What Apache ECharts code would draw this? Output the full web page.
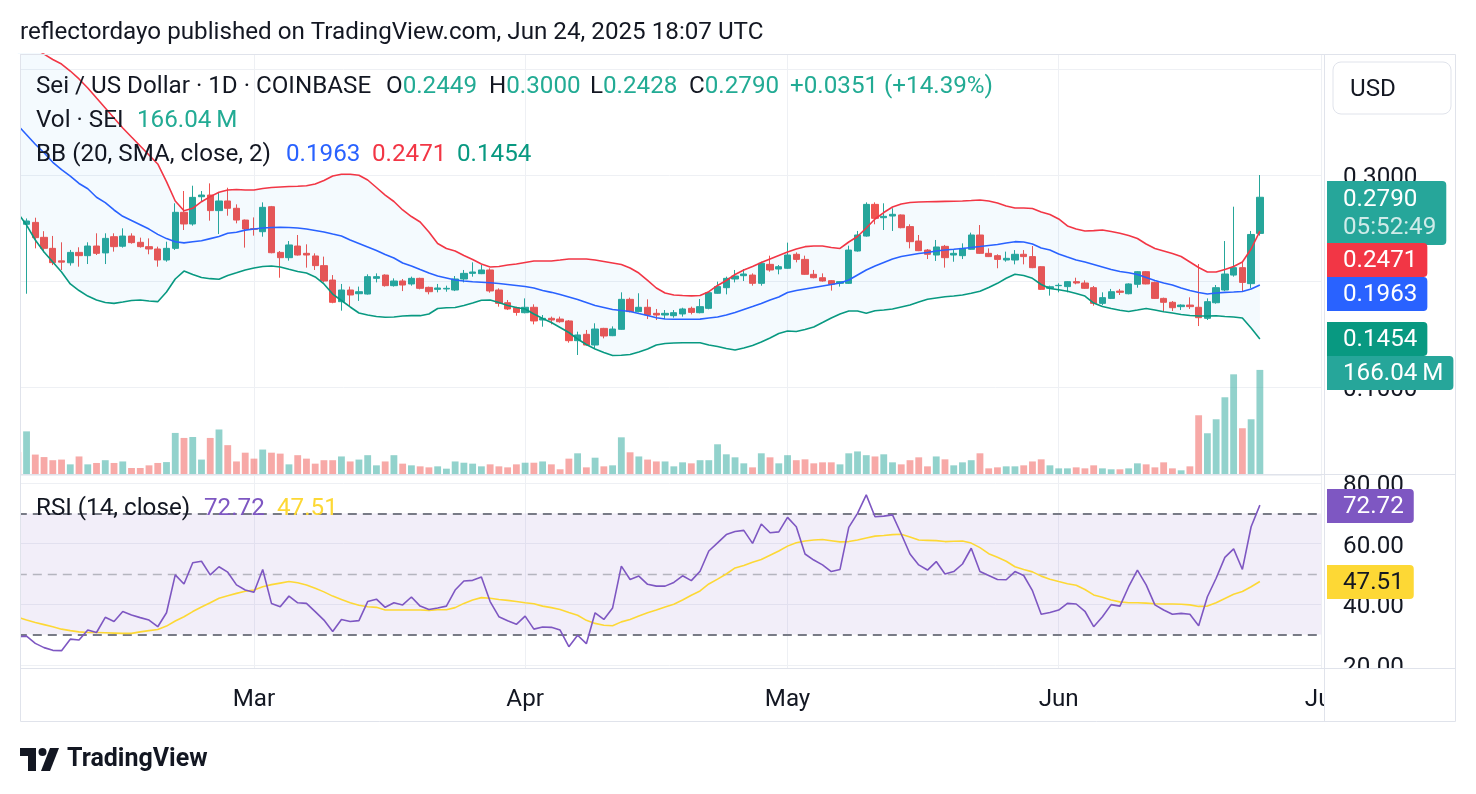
<!DOCTYPE html>
<html>
<head>
<meta charset="utf-8">
<title>Sei / US Dollar 1D</title>
<script src="https://cdn.jsdelivr.net/npm/echarts@6/dist/echarts.min.js"></script>
<style>
  html, body { margin: 0; padding: 0; background: #fff; }
  #chart { width: 1476px; height: 794px; }
</style>
</head>
<body>
<div id="chart"></div>
<script>
// SEI/USD daily, Coinbase, 2 Feb .. 24 Jun 2025 (axis runs on to 1 Jul)
var firstDay = Date.UTC(2025, 1, 2);
var dayCount = 150;
var categories = [];
for (var d = 0; d < dayCount; d++) {
  categories.push(new Date(firstDay + d * 86400000).toISOString().slice(0, 10));
}
var monthLabels = { '2025-03-01': 'Mar', '2025-04-01': 'Apr', '2025-05-01': 'May', '2025-06-01': 'Jun', '2025-07-01': 'Jul' };

var openVals = [
  0.2984,0.2535,0.2553,0.2412,0.2308,0.2190,0.2172,0.2270,0.2239,0.2330,
  0.2265,0.2418,0.2328,0.2424,0.2365,0.2324,0.2302,0.2198,0.2308,0.2648,
  0.2538,0.2795,0.2811,0.2664,0.2755,0.2686,0.2575,0.2494,0.2465,0.2701,
  0.2270,0.2220,0.2330,0.2261,0.2236,0.2145,0.2009,0.1805,0.1915,0.1880,
  0.1877,0.2025,0.2056,0.1956,0.2000,0.1972,0.2025,0.1940,0.1921,0.1925,
  0.1915,0.2019,0.2072,0.2069,0.2104,0.1915,0.1795,0.1748,0.1701,0.1752,
  0.1632,0.1648,0.1641,0.1623,0.1437,0.1497,0.1396,0.1553,0.1484,0.1544,
  0.1827,0.1711,0.1752,0.1695,0.1679,0.1673,0.1689,0.1742,0.1701,0.1742,
  0.1884,0.1937,0.2019,0.2050,0.2056,0.1978,0.2157,0.2113,0.2120,0.2252,
  0.2204,0.2063,0.2031,0.2003,0.1978,0.1978,0.2283,0.2424,0.2723,0.2597,
  0.2613,0.2623,0.2513,0.2377,0.2292,0.2245,0.2327,0.2245,0.2239,0.2299,
  0.2434,0.2261,0.2239,0.2198,0.2198,0.2252,0.2230,0.2135,0.1931,0.1956,
  0.1947,0.1994,0.1981,0.1937,0.1789,0.1836,0.1905,0.1880,0.1969,0.2088,
  0.1987,0.1836,0.1799,0.1758,0.1773,0.1752,0.1648,0.1795,0.1915,0.2056,
  0.2126,0.1975,0.2449
];
var highVals = [
  0.3050,0.2590,0.2597,0.2470,0.2425,0.2365,0.2293,0.2318,0.2365,0.2450,
  0.2450,0.2450,0.2497,0.2450,0.2409,0.2402,0.2324,0.2371,0.2733,0.2849,
  0.2899,0.2849,0.2921,0.2836,0.2880,0.2723,0.2580,0.2600,0.2742,0.2708,
  0.2283,0.2377,0.2434,0.2346,0.2261,0.2230,0.2056,0.1972,0.1947,0.1947,
  0.2063,0.2072,0.2063,0.2025,0.2019,0.2041,0.2031,0.1947,0.1972,0.1956,
  0.2047,0.2104,0.2176,0.2151,0.2120,0.1931,0.1821,0.1758,0.1836,0.1780,
  0.1679,0.1664,0.1664,0.1632,0.1522,0.1538,0.1601,0.1558,0.1572,0.1893,
  0.1843,0.1884,0.1827,0.1736,0.1726,0.1726,0.1748,0.1758,0.1830,0.1899,
  0.1994,0.2041,0.2104,0.2113,0.2072,0.2182,0.2239,0.2151,0.2362,0.2270,
  0.2239,0.2104,0.2072,0.2008,0.1999,0.2333,0.2472,0.2742,0.2742,0.2733,
  0.2686,0.2628,0.2535,0.2434,0.2302,0.2387,0.2340,0.2292,0.2355,0.2456,
  0.2528,0.2308,0.2252,0.2277,0.2292,0.2292,0.2330,0.2140,0.1956,0.1978,
  0.2000,0.2031,0.2006,0.1953,0.1893,0.1925,0.1925,0.1978,0.2094,0.2094,
  0.1994,0.1843,0.1811,0.1780,0.1846,0.2160,0.1836,0.1962,0.2377,0.2701,
  0.2176,0.2472,0.3000
];
var lowVals = [
  0.2500,0.1880,0.2308,0.2270,0.2150,0.2104,0.2145,0.2135,0.2160,0.2245,
  0.2160,0.2277,0.2315,0.2352,0.2315,0.2252,0.2135,0.2182,0.2293,0.2481,
  0.2522,0.2755,0.2569,0.2443,0.2616,0.2544,0.2315,0.2428,0.2418,0.2261,
  0.2031,0.2192,0.2240,0.2126,0.2104,0.1987,0.1790,0.1720,0.1758,0.1812,
  0.1872,0.1987,0.1947,0.1947,0.1905,0.1956,0.1921,0.1874,0.1893,0.1899,
  0.1905,0.1987,0.2041,0.2065,0.1890,0.1758,0.1726,0.1673,0.1695,0.1591,
  0.1569,0.1591,0.1607,0.1418,0.1302,0.1390,0.1358,0.1459,0.1480,0.1540,
  0.1704,0.1705,0.1641,0.1632,0.1641,0.1654,0.1664,0.1685,0.1695,0.1733,
  0.1880,0.1874,0.1987,0.2000,0.1956,0.1956,0.2088,0.2063,0.2115,0.2176,
  0.2058,0.2025,0.1994,0.1909,0.1947,0.1972,0.2277,0.2418,0.2535,0.2481,
  0.2472,0.2497,0.2308,0.2282,0.2207,0.2189,0.2126,0.2182,0.2207,0.2295,
  0.2256,0.2226,0.2120,0.2182,0.2157,0.2157,0.2121,0.1915,0.1862,0.1893,
  0.1893,0.1969,0.1925,0.1767,0.1773,0.1830,0.1868,0.1874,0.1937,0.1969,
  0.1830,0.1711,0.1717,0.1726,0.1736,0.1575,0.1632,0.1786,0.1905,0.2041,
  0.1905,0.1930,0.2428
];
var closeVals = [
  0.2530,0.2566,0.2409,0.2308,0.2173,0.2178,0.2270,0.2239,0.2330,0.2261,
  0.2402,0.2324,0.2424,0.2362,0.2324,0.2302,0.2198,0.2308,0.2648,0.2538,
  0.2789,0.2811,0.2664,0.2755,0.2686,0.2575,0.2491,0.2488,0.2695,0.2267,
  0.2220,0.2340,0.2245,0.2245,0.2145,0.2000,0.1799,0.1915,0.1868,0.1899,
  0.2041,0.2041,0.1956,0.2000,0.1962,0.2025,0.1931,0.1899,0.1934,0.1931,
  0.2019,0.2072,0.2085,0.2104,0.1906,0.1789,0.1736,0.1704,0.1752,0.1623,
  0.1648,0.1632,0.1616,0.1437,0.1491,0.1396,0.1547,0.1481,0.1547,0.1827,
  0.1711,0.1752,0.1679,0.1679,0.1695,0.1701,0.1736,0.1704,0.1758,0.1890,
  0.1947,0.2025,0.2047,0.2066,0.1978,0.2167,0.2104,0.2135,0.2245,0.2204,
  0.2063,0.2031,0.2000,0.1969,0.1994,0.2292,0.2434,0.2723,0.2591,0.2610,
  0.2629,0.2503,0.2371,0.2286,0.2252,0.2321,0.2220,0.2261,0.2308,0.2434,
  0.2261,0.2230,0.2204,0.2214,0.2252,0.2230,0.2126,0.1921,0.1946,0.1959,
  0.1994,0.1981,0.1931,0.1789,0.1843,0.1899,0.1893,0.1972,0.2088,0.1972,
  0.1836,0.1799,0.1748,0.1773,0.1758,0.1654,0.1805,0.1937,0.2066,0.2126,
  0.1987,0.2439,0.2790
];
// volume in millions of SEI
var volVals = [
  35,68,31,27,22,23,15.4,28,15.4,17.6,
  22,17.6,20,9.6,9.6,13.8,17.6,19,65.5,57.5,
  59,23,57.5,71,46,20,34,24.5,39,34,
  32.5,15.4,30,24.5,16.5,22,22,28,20,23,
  30,13.8,20,30,16.5,13.8,12.2,10.6,12.2,8.5,
  20,18,16.5,12.2,15.4,12.2,10.6,15.4,18,18,
  20,15.4,7.5,24.5,33,10.6,26,12.2,13.8,58.5,
  34.6,28,23,20,20,12.2,18.6,17,22,22,
  47.4,31.4,26.6,17,10.6,33,26.6,17,30,22,
  23.4,17,18.6,18.6,15.4,33,36,30,28,31.4,
  18.6,15.4,22,26.6,12.2,28,23.4,13.8,18.6,22,
  33,9,10.6,12.2,12.2,13.8,20,23.4,13.8,9,
  9,10.6,9,13.8,9,7.5,7.5,9,17,15.4,
  10.6,18.6,9,5.9,12.2,93.7,65,87.3,122.4,159,
  73,87.3,166.04
];
// Bollinger Bands (20, SMA, close, 2) as drawn
var bbUpper = [
  0.4300,0.4230,0.4190,0.4140,0.4090,0.4047,0.3981,0.3906,0.3821,0.3726,
  0.3632,0.3538,0.3443,0.3358,0.3274,0.3189,0.3104,0.2937,0.2755,0.2663,
  0.2686,0.2748,0.2796,0.2837,0.2858,0.2863,0.2858,0.2858,0.2873,0.2882,
  0.2887,0.2892,0.2894,0.2899,0.2915,0.2948,0.2991,0.3007,0.3007,0.2997,
  0.2953,0.2882,0.2811,0.2750,0.2670,0.2608,0.2557,0.2462,0.2354,0.2307,
  0.2283,0.2241,0.2203,0.2160,0.2132,0.2137,0.2151,0.2160,0.2175,0.2189,
  0.2189,0.2189,0.2198,0.2208,0.2208,0.2208,0.2198,0.2184,0.2170,0.2156,
  0.2123,0.2075,0.2005,0.1934,0.1887,0.1868,0.1863,0.1860,0.1863,0.1899,
  0.1958,0.2005,0.2061,0.2104,0.2137,0.2175,0.2208,0.2241,0.2274,0.2302,
  0.2324,0.2330,0.2330,0.2316,0.2307,0.2368,0.2420,0.2500,0.2585,0.2646,
  0.2698,0.2726,0.2741,0.2745,0.2747,0.2749,0.2751,0.2753,0.2755,0.2759,
  0.2764,0.2755,0.2736,0.2708,0.2689,0.2689,0.2684,0.2651,0.2627,0.2585,
  0.2519,0.2491,0.2472,0.2475,0.2481,0.2467,0.2450,0.2429,0.2401,0.2349,
  0.2307,0.2283,0.2259,0.2231,0.2179,0.2127,0.2085,0.2085,0.2108,0.2137,
  0.2179,0.2302,0.2471
];
var bbBasis = [
  0.3470,0.3380,0.3290,0.3210,0.3120,0.3050,0.2990,0.2920,0.2870,0.2790,
  0.2740,0.2670,0.2610,0.2570,0.2530,0.2490,0.2440,0.2400,0.2370,0.2360,
  0.2370,0.2380,0.2400,0.2420,0.2450,0.2460,0.2480,0.2490,0.2500,0.2505,
  0.2506,0.2505,0.2500,0.2490,0.2476,0.2462,0.2443,0.2425,0.2387,0.2354,
  0.2321,0.2288,0.2250,0.2217,0.2170,0.2142,0.2108,0.2075,0.2047,0.2028,
  0.2009,0.2000,0.1993,0.1988,0.1983,0.1976,0.1967,0.1958,0.1948,0.1934,
  0.1910,0.1893,0.1873,0.1849,0.1825,0.1797,0.1769,0.1750,0.1731,0.1722,
  0.1712,0.1693,0.1675,0.1653,0.1642,0.1639,0.1639,0.1639,0.1640,0.1651,
  0.1660,0.1679,0.1703,0.1731,0.1759,0.1788,0.1821,0.1849,0.1892,0.1910,
  0.1925,0.1939,0.1953,0.1967,0.1981,0.2009,0.2057,0.2104,0.2142,0.2175,
  0.2208,0.2231,0.2245,0.2259,0.2269,0.2283,0.2292,0.2299,0.2307,0.2316,
  0.2325,0.2335,0.2344,0.2358,0.2371,0.2368,0.2349,0.2311,0.2292,0.2255,
  0.2226,0.2198,0.2179,0.2156,0.2132,0.2108,0.2090,0.2078,0.2061,0.2033,
  0.2005,0.1981,0.1962,0.1934,0.1910,0.1892,0.1877,0.1887,0.1893,0.1896,
  0.1901,0.1925,0.1963
];
var bbLower = [
  0.2642,0.2528,0.2387,0.2274,0.2179,0.2085,0.1972,0.1910,0.1858,0.1821,
  0.1797,0.1789,0.1802,0.1816,0.1821,0.1811,0.1805,0.1896,0.2019,0.2094,
  0.2061,0.2033,0.2022,0.2016,0.2052,0.2077,0.2104,0.2123,0.2137,0.2142,
  0.2132,0.2110,0.2090,0.2075,0.2038,0.1972,0.1877,0.1816,0.1755,0.1698,
  0.1679,0.1665,0.1658,0.1660,0.1670,0.1673,0.1673,0.1689,0.1741,0.1748,
  0.1750,0.1769,0.1792,0.1819,0.1821,0.1797,0.1769,0.1750,0.1736,0.1689,
  0.1646,0.1608,0.1561,0.1514,0.1453,0.1401,0.1358,0.1325,0.1297,0.1299,
  0.1307,0.1330,0.1358,0.1396,0.1410,0.1415,0.1418,0.1418,0.1417,0.1396,
  0.1382,0.1363,0.1349,0.1368,0.1392,0.1425,0.1462,0.1505,0.1528,0.1524,
  0.1542,0.1566,0.1608,0.1651,0.1689,0.1717,0.1717,0.1695,0.1719,0.1726,
  0.1736,0.1755,0.1774,0.1802,0.1828,0.1840,0.1852,0.1858,0.1868,0.1884,
  0.1903,0.1939,0.1978,0.2026,0.2063,0.2052,0.2025,0.1967,0.1929,0.1917,
  0.1903,0.1882,0.1858,0.1792,0.1759,0.1741,0.1724,0.1712,0.1726,0.1741,
  0.1726,0.1710,0.1698,0.1684,0.1675,0.1670,0.1670,0.1672,0.1665,0.1660,
  0.1651,0.1557,0.1454
];
// RSI (14, close) and its moving average
var rsiVals = [
  29.3,29.5,27.1,25.7,24.8,24.7,28.5,28.2,31.5,30.7,
  35.7,34.3,37.6,36.5,35.6,34.8,32.6,37.2,49.7,46.7,
  53.7,54.2,49.7,52.4,50.6,46.4,44.7,44.0,51.5,40.3,
  39.2,42.7,40.5,40.3,37.6,34.8,31.0,35.0,34.3,34.6,
  40.9,41.7,39.0,40.5,39.8,42.4,39.4,38.3,38.8,39.4,
  44.7,47.7,47.9,49.0,40.9,35.9,34.6,33.4,36.1,31.8,
  32.5,32.4,31.5,26.0,29.8,27.0,37.2,35.0,38.8,52.6,
  48.2,49.3,46.6,46.0,46.0,47.2,49.4,47.8,50.9,57.6,
  60.3,63.0,64.0,64.4,60.1,66.5,63.6,63.9,68.7,65.6,
  56.6,54.6,53.0,50.8,51.5,65.4,70.0,76.1,68.9,69.1,
  69.5,63.2,56.6,53.0,51.3,54.1,50.0,50.8,53.3,58.5,
  50.8,49.5,48.2,48.1,50.8,49.5,44.5,36.7,37.3,38.1,
  40.3,40.1,37.7,32.6,35.9,39.9,39.4,45.8,51.3,46.4,
  39.8,38.1,36.7,37.0,36.7,32.9,42.5,48.6,55.5,58.3,
  51.5,65.6,72.72
];
var rsiMa = [
  35.7,34.8,34.0,33.3,32.6,31.8,31.3,30.9,30.7,30.7,
  30.6,30.5,30.4,30.4,30.9,31.3,31.7,32.8,34.5,35.9,
  37.6,39.1,40.5,42.0,42.8,43.6,44.3,44.7,45.8,46.5,
  47.0,47.5,47.1,46.4,45.3,44.1,42.7,41.6,40.5,39.7,
  39.2,39.0,38.1,38.1,38.1,38.1,38.1,38.0,38.2,38.2,
  38.9,40.3,41.4,42.2,42.0,41.6,41.3,40.9,40.5,40.2,
  39.4,38.9,38.3,37.3,36.4,34.7,33.7,33.1,32.9,34.2,
  35.0,36.1,37.2,38.1,39.1,40.0,41.4,43.0,44.4,46.7,
  48.3,50.0,52.0,52.8,53.9,54.8,56.2,57.6,59.2,60.3,
  60.9,61.2,61.4,61.0,60.6,60.7,61.2,61.9,62.5,62.7,
  63.0,63.1,62.2,61.2,61.1,61.0,60.7,60.8,60.9,60.2,
  58.7,56.7,55.5,54.2,52.4,51.5,50.7,49.3,48.3,47.5,
  46.8,46.3,44.9,43.1,42.3,41.4,40.8,40.5,40.5,40.4,
  40.2,40.1,40.1,40.0,39.8,39.3,39.4,40.5,41.9,43.3,
  44.2,45.8,47.51
];

var FONT = 'Roboto, "Noto Sans", sans-serif';
var FS = 24.2;
var INK = '#131722';
var UP = '#26a69a', DOWN = '#ef5350';
var GRID = '#eef0f4', FRAME = '#e0e3eb';

var candleData = openVals.map(function (o, i) {
  return [o, closeVals[i], lowVals[i], highVals[i]];
});
var volData = volVals.map(function (v, i) {
  var up = closeVals[i] >= openVals[i];
  return { value: v, itemStyle: { color: up ? 'rgba(38,166,154,0.5)' : 'rgba(239,83,80,0.5)' } };
});
var bbWidth = bbUpper.map(function (u, i) { return u - bbLower[i]; });

function isMonthStart(idx, val) { return monthLabels[val] !== undefined; }

function label(x, y, text, color, extra) {
  var st = { text: text, fill: color || INK, fontSize: FS, fontFamily: FONT, verticalAlign: 'middle' };
  for (var k in extra) st[k] = extra[k];
  return { type: 'text', x: x, y: y, z: 80, silent: true, style: st };
}
function pair(x, y, key, val, color) {
  return label(x, y, '{k|' + key + '}{v|' + val + '}', INK, {
    rich: { k: { fill: INK, fontSize: FS, fontFamily: FONT }, v: { fill: color, fontSize: FS, fontFamily: FONT } }
  });
}
function tag(y, text, bg, color) {
  return label(1327, y, text, color || '#fff', {
    verticalAlign: 'top', backgroundColor: bg, padding: [5, 10, 3, 16], borderRadius: [0, 4, 4, 0], lineHeight: 26
  });
}
function hline(y, x1, x2) {
  return { type: 'line', z: 60, silent: true, shape: { x1: x1, y1: y, x2: x2, y2: y }, style: { stroke: FRAME, lineWidth: 1 } };
}

var TEAL_TXT = '#22ab94';

var graphics = [
  // masks outside the plot
  { type: 'rect', z: 50, silent: true, shape: { x: 0, y: 54, width: 20, height: 620 }, style: { fill: '#fff' } },
  { type: 'rect', z: 50, silent: true, shape: { x: 1325, y: 669, width: 130, height: 52 }, style: { fill: '#fff' } },
  // frame
  { type: 'rect', z: 60, silent: true, shape: { x: 20.5, y: 54.5, width: 1435, height: 667 }, style: { fill: 'none', stroke: FRAME, lineWidth: 1 } },
  hline(474.5, 20, 1456),
  hline(668.5, 20, 1456),
  { type: 'line', z: 60, silent: true, shape: { x1: 1324.5, y1: 54, x2: 1324.5, y2: 722 }, style: { stroke: FRAME, lineWidth: 1 } },
  // header
  label(20, 33, 'reflectordayo published on TradingView.com, Jun 24, 2025 18:07 UTC'),
  label(36, 87, 'Sei / US Dollar \u00b7 1D \u00b7 COINBASE'),
  pair(386, 87, 'O', '0.2449', TEAL_TXT),
  pair(489, 87, 'H', '0.3000', TEAL_TXT),
  pair(590, 87, 'L', '0.2428', TEAL_TXT),
  pair(689, 87, 'C', '0.2790', TEAL_TXT),
  label(790, 87, '+0.0351 (+14.39%)', TEAL_TXT),
  label(36, 121, 'Vol \u00b7 SEI'),
  label(137, 121, '166.04\u2009M', TEAL_TXT),
  label(36, 155, 'BB (20, SMA, close, 2)'),
  label(286, 155, '0.1963', '#2962ff'),
  label(372, 155, '0.2471', '#f23645'),
  label(457, 155, '0.1454', '#089981'),
  label(36, 509, 'RSI (14, close)'),
  label(204, 509, '72.72', '#7e57c2'),
  label(277, 509, '47.51', '#fdd835'),
  // currency box
  { type: 'rect', z: 70, silent: true, shape: { x: 1333, y: 62, width: 118, height: 52, r: 8 }, style: { fill: '#fff', stroke: FRAME, lineWidth: 1 } },
  label(1350, 90, 'USD'),
  // price scale tags
  label(1327, 181, '{a|0.2790}\n{b|05:52:49}', '#fff', {
    verticalAlign: 'top', backgroundColor: '#26a69a', padding: [5, 10, 3, 16], borderRadius: [0, 4, 4, 0],
    rich: { a: { fill: '#fff', fontSize: FS, fontFamily: FONT, lineHeight: 28 }, b: { fill: 'rgba(255,255,255,0.78)', fontSize: FS, fontFamily: FONT, lineHeight: 28 } }
  }),
  tag(243, '0.2471', '#f23645'),
  tag(277, '0.1963', '#2962ff'),
  tag(322, '0.1454', '#089981'),
  tag(356, '166.04\u2009M', '#26a69a'),
  tag(489, '72.72', '#7e57c2'),
  tag(565, '47.51', '#fdd835', INK),
  // footer logo
  { type: 'polygon', z: 70, silent: true, shape: { points: [[20, 748], [36, 748], [36, 771], [28, 771], [28, 756], [20, 756]] }, style: { fill: INK } },
  { type: 'circle', z: 70, silent: true, shape: { cx: 42.5, cy: 752, r: 4 }, style: { fill: INK } },
  { type: 'polygon', z: 70, silent: true, shape: { points: [[50, 748], [59, 748], [50, 771], [41, 771]] }, style: { fill: INK } },
  label(67, 760, 'TradingView', INK, { fontSize: 25, fontWeight: 'bold' })
];

var PRICE_MIN = 0.3 - 299 / 1060, PRICE_MAX = 0.3 + 121 / 1060;
var RSI_MIN = 50 - 94 / 3.03, RSI_MAX = 50 + 99 / 3.03;

// price-scale labels sit a few px below their gridline, as on TradingView
var scaleLabel = {
  margin: 22, color: INK, fontSize: FS, fontFamily: FONT, showMinLabel: false, showMaxLabel: false,
  verticalAlign: 'top', lineHeight: 6
};

var chart = echarts.init(document.getElementById('chart'));
chart.setOption({
  animation: false,
  backgroundColor: '#fff',
  grid: [
    { left: 17.8, top: 54, width: 1303.3, height: 420 },
    { left: 17.8, top: 475, width: 1303.3, height: 193 }
  ],
  xAxis: [
    {
      type: 'category', gridIndex: 0, data: categories, boundaryGap: false,
      axisLine: { show: false }, axisTick: { show: false }, axisLabel: { show: false },
      splitLine: { show: true, interval: isMonthStart, lineStyle: { color: GRID } }
    },
    {
      type: 'category', gridIndex: 1, data: categories, boundaryGap: false,
      axisLine: { show: false }, axisTick: { show: false },
      axisLabel: {
        interval: isMonthStart, margin: 20, color: INK, fontSize: FS, fontFamily: FONT,
        formatter: function (v) { return monthLabels[v] || ''; }
      },
      splitLine: { show: true, interval: isMonthStart, lineStyle: { color: GRID } }
    }
  ],
  yAxis: [
    {
      type: 'value', gridIndex: 0, position: 'right', min: PRICE_MIN, max: PRICE_MAX, splitNumber: 4,
      axisLine: { show: false }, axisTick: { show: false },
      splitLine: { lineStyle: { color: GRID } },
      axisLabel: Object.assign({}, scaleLabel, {
        formatter: function (v) { return (v > 0.05 && v < 0.35) ? v.toFixed(4) : ''; }
      })
    },
    { type: 'value', gridIndex: 0, min: 0, max: 670, show: false },
    {
      type: 'value', gridIndex: 1, position: 'right', min: RSI_MIN, max: RSI_MAX, splitNumber: 3,
      axisLine: { show: false }, axisTick: { show: false },
      splitLine: { lineStyle: { color: GRID } },
      axisLabel: Object.assign({}, scaleLabel, {
        formatter: function (v) { return (v > 19.5 && v < 80.5) ? v.toFixed(2) : ''; }
      })
    }
  ],
  series: [
    {
      name: 'BB base', type: 'line', xAxisIndex: 0, yAxisIndex: 0, data: bbLower, stack: 'bb',
      symbol: 'none', silent: true, lineStyle: { opacity: 0 }
    },
    {
      name: 'BB fill', type: 'line', xAxisIndex: 0, yAxisIndex: 0, data: bbWidth, stack: 'bb',
      symbol: 'none', silent: true, lineStyle: { opacity: 0 }, areaStyle: { color: 'rgba(33,150,243,0.05)', opacity: 1 }
    },
    {
      name: 'Volume', type: 'bar', xAxisIndex: 0, yAxisIndex: 1, data: volData, barWidth: '78%', silent: true
    },
    {
      name: 'BB upper', type: 'line', xAxisIndex: 0, yAxisIndex: 0, data: bbUpper, symbol: 'none', silent: true,
      lineStyle: { color: '#f23645', width: 1.6 }
    },
    {
      name: 'BB lower', type: 'line', xAxisIndex: 0, yAxisIndex: 0, data: bbLower, symbol: 'none', silent: true,
      lineStyle: { color: '#089981', width: 1.6 }
    },
    {
      name: 'BB basis', type: 'line', xAxisIndex: 0, yAxisIndex: 0, data: bbBasis, symbol: 'none', silent: true,
      lineStyle: { color: '#2962ff', width: 1.6 }
    },
    {
      name: 'SEI', type: 'candlestick', xAxisIndex: 0, yAxisIndex: 0, data: candleData, barWidth: '78%', silent: true,
      itemStyle: { color: UP, color0: DOWN, borderColor: UP, borderColor0: DOWN, borderWidth: 1 }
    },
    {
      name: 'RSI MA', type: 'line', xAxisIndex: 1, yAxisIndex: 2, data: rsiMa, symbol: 'none', silent: true,
      lineStyle: { color: '#fdd835', width: 1.6 },
      markArea: {
        silent: true, itemStyle: { color: 'rgba(126,87,194,0.1)' },
        data: [[{ yAxis: 30 }, { yAxis: 70 }]]
      },
      markLine: {
        silent: true, symbol: 'none', label: { show: false }, z: 1,
        data: [
          { yAxis: 70, lineStyle: { color: '#787b86', type: [9, 6], width: 1.8 } },
          { yAxis: 50, lineStyle: { color: 'rgba(120,123,134,0.5)', type: [9, 6], width: 1.3 } },
          { yAxis: 30, lineStyle: { color: '#787b86', type: [9, 6], width: 1.8 } }
        ]
      }
    },
    {
      name: 'RSI', type: 'line', xAxisIndex: 1, yAxisIndex: 2, data: rsiVals, symbol: 'none', silent: true,
      lineStyle: { color: '#7e57c2', width: 1.6 }
    }
  ],
  graphic: { elements: graphics }
});
</script>
</body>
</html>
